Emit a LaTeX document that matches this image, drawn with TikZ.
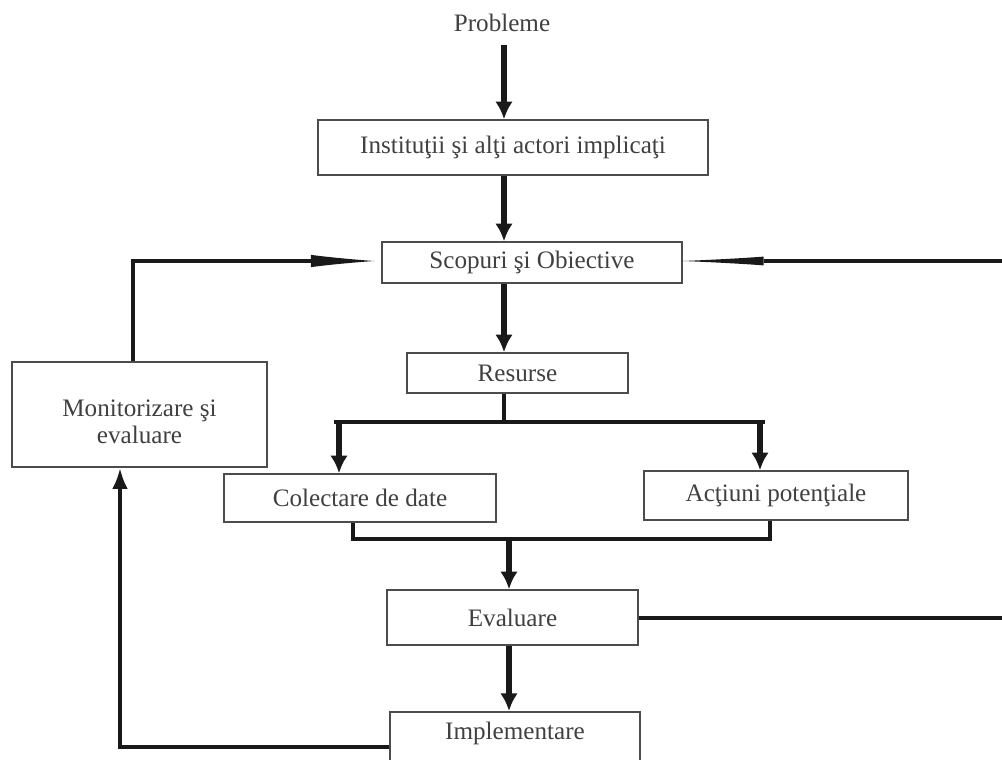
\documentclass[tikz,border=0pt]{standalone}
\usepackage{fontspec}
\setmainfont{Liberation Serif}
\usetikzlibrary{arrows.meta, calc}
\tikzset{
  block/.style={rectangle, draw=black!70, line width=0.9pt, inner sep=0pt, text centered, text=black!75, font=\fontsize{14.3}{15.5}\selectfont},
  arrow/.style={line width=3.8pt, draw=black!90, -{Latex[length=10pt, width=10pt]}},
  link/.style={line width=1.8pt, draw=black!90},
  feedback/.style={line width=2.8pt, draw=black!90}
}

\begin{document}
\begin{tikzpicture}[x=0.02cm, y=-0.02cm]
    \clip (0,0) rectangle (1002,760);

    % 1. Casetele
    \node[text=black!75, font=\fontsize{14.3}{15.5}\selectfont] (prob) at (502,23) {Probleme};
    \node[block, minimum width=7.8cm, minimum height=1.1cm] (inst) at (513,147.5) {Instituţii şi alţi actori implicaţi};
    \node[block, minimum width=6cm, minimum height=0.82cm] (scop) at (532,262.5) {Scopuri şi Obiective};
    \node[block, minimum width=4.42cm, minimum height=0.8cm] (res) at (517.5,373) {Resurse};
    \node[block, minimum width=5.44cm, minimum height=0.96cm] (col) at (360,498) {Colectare de date};
    \node[block, minimum width=5.28cm, minimum height=0.98cm] (act) at (776,495.5) {Acţiuni potenţiale};
    \node[block, minimum width=5.02cm, minimum height=1.1cm] (eval) at (512.5,617.5) {Evaluare};
    \node[block, anchor=north, minimum width=5cm, text height=16pt, text depth=40pt] (impl) at (515,711) {Implementare};
    \node[block, align=center, minimum width=5.1cm, minimum height=2.1cm] (mon) at (139.5,414.5) {\rule{0pt}{18pt}Monitorizare şi\\evaluare};

    % 2. Axa centrala
    \coordinate (axisT) at (504,0);
    \coordinate (axisB) at (509,0);
    \draw[arrow, shorten <=4pt] (axisT |- prob.south) -- (axisT |- inst.north);
    \draw[arrow] (axisT |- inst.south) -- (axisT |- scop.north);
    \draw[arrow] (axisT |- scop.south) -- (axisT |- res.north);

    % 3. Ramificarea de sub Resurse
    \coordinate (forkL) at (339,422);
    \coordinate (forkR) at (760,422);
    \draw[link] (axisT |- res.south) -- (axisT |- forkL);
    \draw[link, shorten <=-3pt, shorten >=-3pt] (forkL) -- (forkR);
    \draw[arrow] (forkL) -- (forkL |- col.north);
    \draw[arrow] (forkR) -- (forkR |- act.north);

    % 4. Unirea spre Evaluare
    \coordinate (mergeL) at (353,539);
    \coordinate (mergeR) at (770,539);
    \draw[link] (mergeL |- col.south) -- (mergeL) -- (mergeR) -- (mergeR |- act.south);
    \draw[arrow] (axisB |- mergeL) -- (axisB |- eval.north);
    \draw[arrow] (axisB |- eval.south) -- (axisB |- impl.north);

    % 5. Buclele de reactie
    \coordinate (edgeS) at (1002,261);
    \coordinate (edgeE) at (1002,618);
    \coordinate (loopL) at (133,261);
    \coordinate (loopB) at (120,747);
    \draw[link] (eval.east |- edgeE) -- (edgeE);
    \draw[link, -{Latex[length=46pt, width=5pt, line width=0pt]}] (edgeS) -- (scop.east |- edgeS);
    \draw[feedback, -{Latex[length=36pt, width=7pt, line width=0pt]}, shorten >=4pt] (loopL |- mon.north) -- (loopL) -- (scop.west |- loopL);
    \draw[feedback, -{Latex[length=12pt, width=9pt]}] (impl.west |- loopB) -- (loopB) -- (loopB |- mon.south);

\end{tikzpicture}
\end{document}
